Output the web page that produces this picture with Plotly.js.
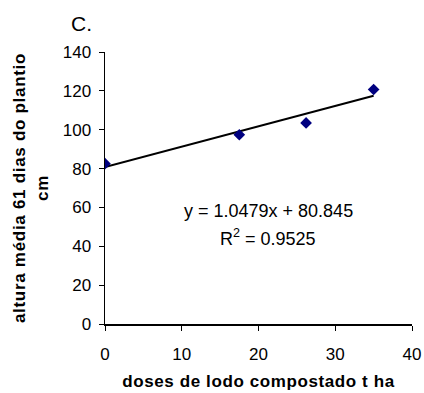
<!DOCTYPE html>
<html><head><meta charset="utf-8">
<script src="https://cdn.plot.ly/plotly-3.0.1.min.js"></script>
<style>html,body{margin:0;padding:0;background:#fff}#c{width:424px;height:393px}
.xtitle{letter-spacing:0.6px}.ytitle{letter-spacing:0.7px}</style>
</head><body><div id="c"></div>
<script>
const doses = [0, 17.5, 26.2, 35];
const altura = [82.5, 97.4, 103.5, 120.7];
const slope = 1.0479;
const intercept = 80.845;
const trendX = [0, 35];
const eqText = "y = 1.0479x + 80.845";
const r2Text = "R<sup>2</sup> = 0.9525";

const F = "Liberation Sans, Arial, sans-serif";
const traces = [
  {x: trendX, y: trendX.map(v => slope * v + intercept), mode: 'lines',
   line: {color: '#000', width: 2}, hoverinfo: 'skip'},
  {x: doses, y: altura, mode: 'markers',
   marker: {symbol: 'diamond', size: 9, color: '#000080'}}
];
const layout = {
  width: 424, height: 393, showlegend: false,
  margin: {l: 105, r: 12, t: 52, b: 69},
  paper_bgcolor: '#fff', plot_bgcolor: '#fff',
  font: {family: F, size: 17, color: '#000'},
  xaxis: {range: [0, 40], tickvals: [0, 10, 20, 30, 40], showgrid: false, zeroline: false, automargin: false,
    showline: true, linecolor: '#000', linewidth: 1.5, ticks: 'outside', ticklen: 5, tickcolor: '#000',
    ticklabelstandoff: 9, tickfont: {size: 17, color: '#000'},
    title: {text: 'doses de lodo compostado t ha', font: {family: F, size: 17, color: '#000', weight: 'bold'}, standoff: 12}},
  yaxis: {range: [0, 140], tickvals: [0, 20, 40, 60, 80, 100, 120, 140], showgrid: false, zeroline: false, automargin: false,
    showline: true, linecolor: '#000', linewidth: 1.5, ticks: 'outside', ticklen: 5, tickcolor: '#000',
    ticklabelstandoff: 4, tickfont: {size: 17, color: '#000'},
    title: {text: 'altura média 61 dias do plantio<br>cm', font: {family: F, size: 17, color: '#000', weight: 'bold'}, standoff: 10}},
  annotations: [
    {xref: 'paper', yref: 'paper', x: -0.075, y: 1.105, xanchor: 'center', yanchor: 'middle', showarrow: false,
     text: 'C.', font: {family: F, size: 21, color: '#000'}},
    {xref: 'x', yref: 'y', x: 21.3, y: 58, showarrow: false, text: eqText, font: {family: F, size: 18, color: '#000'}},
    {xref: 'x', yref: 'y', x: 21.3, y: 44.5, showarrow: false, text: r2Text, font: {family: F, size: 18, color: '#000'}}
  ]
};
Plotly.newPlot('c', traces, layout, {staticPlot: true});
</script></body></html>
